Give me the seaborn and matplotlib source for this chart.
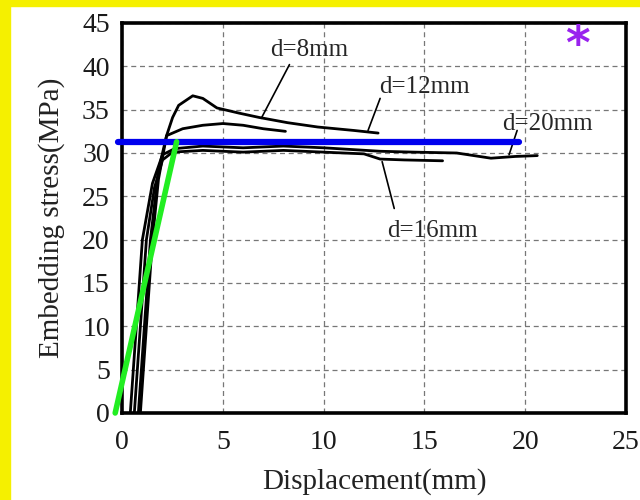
import numpy as np
import pandas as pd
import seaborn as sns
import matplotlib.pyplot as plt
from matplotlib.patches import Rectangle

# curve data (displacement mm, stress MPa)
d8_x = [0.8, 1.1, 1.4, 1.8, 2.2, 3.0, 4.0, 5.0, 6.0, 7.0, 8.1]
d8_y = [0.0, 10.0, 20.0, 28.0, 32.0, 32.8, 33.2, 33.4, 33.2, 32.8, 32.5]

d12_x = [0.9, 1.2, 1.5, 1.8, 2.2, 2.5, 2.8, 3.5, 4.0, 4.7, 5.8, 6.8, 8.2, 9.7, 11.5, 12.7]
d12_y = [0.0, 10.0, 20.0, 27.0, 32.0, 34.1, 35.5, 36.6, 36.3, 35.2, 34.6, 34.1, 33.5, 33.0, 32.6, 32.3]

d16_x = [0.6, 0.9, 1.2, 1.6, 2.0, 2.5, 4.0, 6.0, 8.0, 10.0, 12.0, 12.8, 14.0, 15.9]
d16_y = [0.0, 10.0, 20.0, 26.0, 29.2, 30.1, 30.3, 30.1, 30.3, 30.1, 29.9, 29.3, 29.2, 29.1]

d20_x = [0.4, 0.7, 1.0, 1.5, 2.0, 2.6, 4.0, 6.0, 8.0, 10.0, 12.8, 14.5, 16.6, 18.3, 19.5, 20.6]
d20_y = [0.0, 10.0, 20.0, 26.5, 29.8, 30.5, 30.8, 30.6, 30.8, 30.6, 30.2, 30.1, 30.0, 29.4, 29.6, 29.7]

# label text, label position, leader start, leader end
labels = ["d=8mm", "d=12mm", "d=16mm", "d=20mm"]
label_xy = [(9.3, 41.9), (15.0, 37.6), (15.4, 21.0), (21.1, 33.4)]
leader_from = [(8.3, 40.2), (12.8, 36.3), (13.5, 23.6), (19.6, 32.6)]
leader_to = [(6.9, 34.0), (12.2, 32.6), (12.9, 29.0), (19.2, 29.8)]

# overlay marks drawn on top of the scanned figure
blue_x = [-0.2, 19.7]
blue_y = [31.3, 31.3]
green_x = [-0.35, 2.7]
green_y = [0.0, 31.3]

frames = []
for name, xs, ys in [("d=8mm", d8_x, d8_y), ("d=12mm", d12_x, d12_y),
                     ("d=16mm", d16_x, d16_y), ("d=20mm", d20_x, d20_y)]:
    frames.append(pd.DataFrame({"disp": xs, "stress": ys, "d": name}))
df = pd.concat(frames, ignore_index=True)

sns.set_theme(style="white")
plt.rcParams['font.family'] = ['Liberation Serif', 'DejaVu Serif']

fig = plt.figure(figsize=(6.4, 5.0), dpi=100)
fig.patch.set_facecolor("white")
ax = fig.add_axes([0.191, 0.174, 0.787, 0.780])

# yellow frame at left and top
fig.add_artist(Rectangle((0, 0), 10 / 640, 1, transform=fig.transFigure,
                         color="#f5f000", zorder=0))
fig.add_artist(Rectangle((0, 1 - 6 / 500), 1, 6 / 500, transform=fig.transFigure,
                         color="#f5f000", zorder=0))

sns.lineplot(data=df, x="disp", y="stress", hue="d", units="d", estimator=None,
             sort=False, palette=["black"] * 4, linewidth=2.0, legend=False, ax=ax)

ax.set_xlim(0, 25)
ax.set_ylim(0, 45)
ax.set_xticks(range(0, 26, 5))
ax.set_yticks(range(0, 46, 5))
ax.grid(True, color="#777777", linestyle=(0, (4, 3)), linewidth=0.9)
for s in ax.spines.values():
    s.set_linewidth(2.6)
    s.set_color("black")
ax.tick_params(labelsize=20, length=0, labelcolor="#1a1a1a")
ax.tick_params(axis="x", pad=12)
ax.tick_params(axis="y", pad=9)
ax.set_xlabel("Displacement(mm)", fontsize=21, color="#222222", labelpad=10)
ax.set_ylabel("Embedding stress(MPa)", fontsize=21, color="#222222", labelpad=12)

for t, p, a, b in zip(labels, label_xy, leader_from, leader_to):
    ax.text(p[0], p[1], t, fontsize=18, ha="center", va="center")
    ax.plot([a[0], b[0]], [a[1], b[1]], color="black", linewidth=1.2)

ax.plot(blue_x, blue_y, color="#0000ee", linewidth=4.5, clip_on=False, zorder=5)
ax.plot(green_x, green_y, color="#22ee22", linewidth=4, clip_on=False, zorder=5)
ax.text(22.6, 42.3, "*", color="#9922ee", fontsize=34, fontweight="bold",
        ha="center", va="center", family="DejaVu Sans")

fig.savefig("out.png", dpi=100)
